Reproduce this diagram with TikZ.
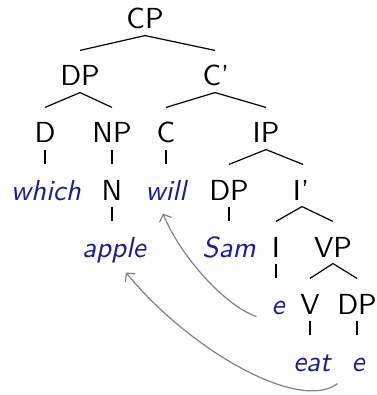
\documentclass[tikz,border=0pt]{standalone}
\usepackage{xcolor}
\usetikzlibrary{arrows.meta}
\definecolor{wordblue}{RGB}{25,25,165}
\definecolor{arrowgray}{RGB}{128,128,128}
\begin{document}
\begin{tikzpicture}[x=1pt,y=1pt,
  lab/.style={font=\sffamily\fontsize{10}{12}\selectfont, scale=2.9, transform shape, inner sep=0pt, text height=12.07pt, text depth=2.07pt, anchor=base},
  word/.style={lab, text=wordblue, font=\sffamily\itshape\fontsize{10}{12}\selectfont},
  edge/.style={line width=1.2pt, black},
  mv/.style={line width=1.2pt, arrowgray, -{Straight Barb[length=6pt,width=13pt]}}]
\useasboundingbox (0,0) rectangle (376,-395);
% row 1
\node[lab] (CP) at (145,-29) {CP};
% row 2
\node[lab] (DP1) at (80,-86) {DP};
\node[lab] (Cbar) at (216,-86) {C'};
% row 3
\node[lab] (D) at (45,-143) {D};
\node[lab] (NP) at (112,-143) {NP};
\node[lab] (C) at (166,-143) {C};
\node[lab] (IP) at (266,-143) {IP};
% row 4
\node[word] (which) at (46,-200) {which};
\node[lab] (N) at (112,-200) {N};
\node[word] (will) at (166,-200) {will};
\node[lab] (DP2) at (229,-200) {DP};
\node[lab] (Ibar) at (301,-200) {I'};
% row 5
\node[word] (apple) at (114,-257) {apple};
\node[word] (Sam) at (229,-257) {Sam};
\node[lab] (I) at (276,-257) {I};
\node[lab] (VP) at (333,-257) {VP};
% row 6
\node[word] (e1) at (278,-314) {e};
\node[lab] (V) at (310,-314) {V};
\node[lab] (DP3) at (357,-314) {DP};
% row 7
\node[word] (eat) at (312,-371) {eat};
\node[word] (e2) at (358,-371) {e};
% edges
\draw[edge] (DP1.north) -- (CP.south) -- ([xshift=-1pt]Cbar.north);
\draw[edge] (D.north) -- (DP1.south) -- (NP.north);
\draw[edge] ([xshift=-1pt]Cbar.south) -- (C.north);
\draw[edge] ([xshift=-1pt]Cbar.south) -- (IP.north);
\draw[edge] (D.south) -- (which.north -| D.south);
\draw[edge] (NP.south) -- (N.north);
\draw[edge] (C.south) -- (will.north);
\draw[edge] (DP2.north) -- (IP.south) -- ([xshift=2pt]Ibar.north);
\draw[edge] (DP2.south) -- (Sam.north);
\draw[edge] (N.south) -- (apple.north -| N.south);
\draw[edge] (I.north) -- ([xshift=1pt]Ibar.south) -- (VP.north);
\draw[edge] (I.south) -- (e1.north -| I.south);
\draw[edge] (V.north) -- (VP.south) -- (DP3.north);
\draw[edge] (V.south) -- (eat.north -| V.south);
\draw[edge] (DP3.south) -- (e2.north -| DP3.south);
% movement arrows
\draw[mv] ([shift={(-14.5,4)}]e1.south west) .. controls +(-32,11) and +(17,-42) .. ([shift={(-3,-7)}]will.south);
\draw[mv] ([shift={(-13.5,-6)}]e2.south west) .. controls +(-38,-29) and +(64,-78) .. ([shift={(12,-9)}]apple.south);
\end{tikzpicture}
\end{document}
